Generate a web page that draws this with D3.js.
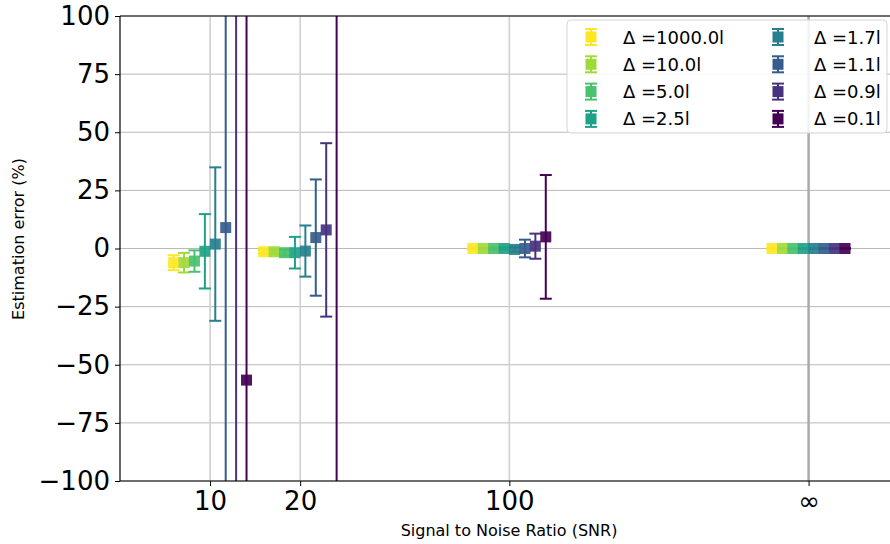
<!DOCTYPE html>
<html>
<meta charset="utf-8">
<head>
	<title>estimation error vs snr</title>
	<script src="https://cdn.jsdelivr.net/npm/d3@7/dist/d3.min.js" charset="utf-8"></script>
	<style>
		body { margin: 0; background: #fff; }
		text { font-family: "DejaVu Sans", sans-serif; }
	</style>
</head>
<body>
	<script type="text/javascript">
	// SNR groups (infinity is drawn at 1000)
	var snrLabels = ["10", "20", "100", "\u221e"],
		snrValues = [10, 20, 100, 1000];
	// series, one per delta
	var deltas = ["1000.0", "10.0", "5.0", "2.5", "1.7", "1.1", "0.9", "0.1"];
	// mean estimation error (%) and error bar half-width for each group
	var meanAt10 = [-6.1, -6.1, -5.4, -1.2, 1.9, 9.0, 140, -56.6],
		errAt10 = [3.2, 4.2, 4.6, 16, 33, 170, 300, 250];
	var meanAt20 = [-1.4, -1.4, -1.8, -1.8, -1.1, 4.7, 8.0, 130],
		errAt20 = [0.8, 0.8, 1.2, 6.8, 11, 25, 37.3, 300];
	var meanAt100 = [0.0, 0.0, 0.0, 0.0, -0.4, 0.0, 1.0, 5.0],
		errAt100 = [0.3, 0.3, 0.4, 0.5, 1.0, 3.8, 5.4, 26.6];
	var meanAtInf = [0, 0, 0, 0, 0, 0, 0, 0],
		errAtInf = [0.1, 0.1, 0.1, 0.1, 0.1, 0.1, 0.1, 0.1];
	var yTicks = [-100, -75, -50, -25, 0, 25, 50, 75, 100];

	var means = [meanAt10, meanAt20, meanAt100, meanAtInf],
		errs = [errAt10, errAt20, errAt100, errAtInf];

	var width = 890, height = 544;
	var margin = {top: 16, right: -2, bottom: 63, left: 120};
	var offsetStep = 0.0348; // decades between neighbouring series

	var svg = d3.select('body').append('svg')
		.attr("width", width)
		.attr("height", height);

	var x = d3.scaleLog().domain([5, 1900]).range([margin.left, width - margin.right]);
	var y = d3.scaleLinear().domain([-100, 100]).range([height - margin.bottom, margin.top]);
	var color = function(i) { return d3.interpolateViridis(1 - i / (deltas.length - 1)); };
	var fmtMinus = function(d) { return d < 0 ? "\u2212" + Math.abs(d) : String(d); };

	svg.append("clipPath").attr("id", "clip").append("rect")
		.attr("x", margin.left).attr("y", margin.top)
		.attr("width", x.range()[1] - margin.left)
		.attr("height", y.range()[0] - margin.top);

	// grid
	var grid = svg.append("g");
	grid.selectAll("line.gy").data(yTicks).enter().append("line")
		.attr("x1", margin.left).attr("x2", x.range()[1])
		.attr("y1", function(d) { return y(d); }).attr("y2", function(d) { return y(d); })
		.attr("stroke", "#b9b9b9").attr("stroke-width", 1);
	grid.selectAll("line.gx").data(snrValues).enter().append("line")
		.attr("x1", function(d) { return x(d); }).attr("x2", function(d) { return x(d); })
		.attr("y1", margin.top).attr("y2", y.range()[0])
		.attr("stroke", function(d, i) { return i == 3 ? "#aaaaaa" : "#d0d0d0"; })
		.attr("stroke-width", function(d, i) { return i == 3 ? 2.5 : 1.6; });

	// points
	var points = [];
	snrValues.forEach(function(s, g) {
		deltas.forEach(function(dl, i) {
			points.push({snr: s * Math.pow(10, (i - 3.5) * offsetStep), mean: means[g][i], err: errs[g][i], i: i});
		});
	});

	var plot = svg.append("g").attr("clip-path", "url(#clip)");
	var capW = 6;
	var eb = plot.selectAll("g.eb").data(points).enter().append("g")
		.attr("stroke", function(d) { return color(d.i); })
		.attr("stroke-width", 2);
	eb.append("line")
		.attr("x1", function(d) { return x(d.snr); }).attr("x2", function(d) { return x(d.snr); })
		.attr("y1", function(d) { return y(d.mean - d.err); }).attr("y2", function(d) { return y(d.mean + d.err); });
	eb.selectAll("line.cap").data(function(d) { return [d.mean - d.err, d.mean + d.err].map(function(v) { return {snr: d.snr, v: v}; }); })
		.enter().append("line")
		.attr("x1", function(d) { return x(d.snr) - capW; }).attr("x2", function(d) { return x(d.snr) + capW; })
		.attr("y1", function(d) { return y(d.v); }).attr("y2", function(d) { return y(d.v); });
	plot.selectAll("rect.pt").data(points).enter().append("rect")
		.attr("x", function(d) { return x(d.snr) - 5.5; })
		.attr("y", function(d) { return y(d.mean) - 5.5; })
		.attr("width", 11).attr("height", 11)
		.attr("fill", function(d) { return color(d.i); })
		.attr("fill-opacity", 0.92);

	// spines
	svg.append("line").attr("x1", margin.left).attr("x2", margin.left)
		.attr("y1", margin.top).attr("y2", y.range()[0]).attr("stroke", "#000").attr("stroke-width", 1.2);
	svg.append("line").attr("x1", margin.left).attr("x2", width)
		.attr("y1", margin.top).attr("y2", margin.top).attr("stroke", "#000").attr("stroke-width", 1.2);
	svg.append("line").attr("x1", margin.left).attr("x2", width)
		.attr("y1", y.range()[0]).attr("y2", y.range()[0]).attr("stroke", "#000").attr("stroke-width", 1.2);

	// y axis
	var yAxis = svg.append("g").attr("transform", "translate(" + margin.left + ",0)")
		.call(d3.axisLeft(y).tickValues(yTicks).tickFormat(fmtMinus).tickSize(5).tickPadding(5));
	yAxis.select(".domain").remove();
	yAxis.selectAll("text").attr("font-size", 26).attr("font-family", "DejaVu Sans").attr("fill", "#000");
	yAxis.selectAll("line").attr("stroke", "#000");

	// x axis
	var xAxis = svg.append("g").attr("transform", "translate(0," + y.range()[0] + ")")
		.call(d3.axisBottom(x).tickValues(snrValues).tickFormat(function(d, i) { return snrLabels[i]; }).tickSize(5).tickPadding(6));
	xAxis.select(".domain").remove();
	xAxis.selectAll("text").attr("font-size", 26).attr("font-family", "DejaVu Sans").attr("fill", "#000");
	xAxis.selectAll("line").attr("stroke", "#000");

	svg.append("text").attr("x", 509).attr("y", 536)
		.attr("text-anchor", "middle").attr("font-size", 16)
		.text("Signal to Noise Ratio (SNR)");
	svg.append("text").attr("transform", "translate(24,239) rotate(-90)")
		.attr("text-anchor", "middle").attr("font-size", 16)
		.text("Estimation error (%)");

	// legend
	var lg = svg.append("g");
	lg.append("rect").attr("x", 567).attr("y", 20).attr("width", 320).attr("height", 113)
		.attr("rx", 4).attr("fill", "#fff").attr("fill-opacity", 0.85)
		.attr("stroke", "#d6d6d6").attr("stroke-width", 1);
	var item = lg.selectAll("g.item").data(deltas).enter().append("g")
		.attr("transform", function(d, i) {
			var col = Math.floor(i / 4), row = i % 4;
			return "translate(" + (591 + col * 187) + "," + (37 + row * 27.3) + ")";
		});
	item.append("line").attr("x1", 0).attr("x2", 0).attr("y1", -8).attr("y2", 8)
		.attr("stroke", function(d, i) { return color(i); }).attr("stroke-width", 2);
	item.selectAll("line.c").data(function(d, i) { return [-8, 8].map(function(v) { return {v: v, i: i}; }); })
		.enter().append("line")
		.attr("x1", -6).attr("x2", 6).attr("y1", function(d) { return d.v; }).attr("y2", function(d) { return d.v; })
		.attr("stroke", function(d) { return color(d.i); }).attr("stroke-width", 2);
	item.append("rect").attr("x", -5.5).attr("y", -5.5).attr("width", 11).attr("height", 11)
		.attr("fill", function(d, i) { return color(i); });
	item.append("text").attr("x", function(d, i) { return i < 4 ? 32 : 36; }).attr("y", 6.5)
		.attr("font-size", 18)
		.text(function(d) { return "\u0394 =" + d + "l"; });
	</script>
</body>
</html>
